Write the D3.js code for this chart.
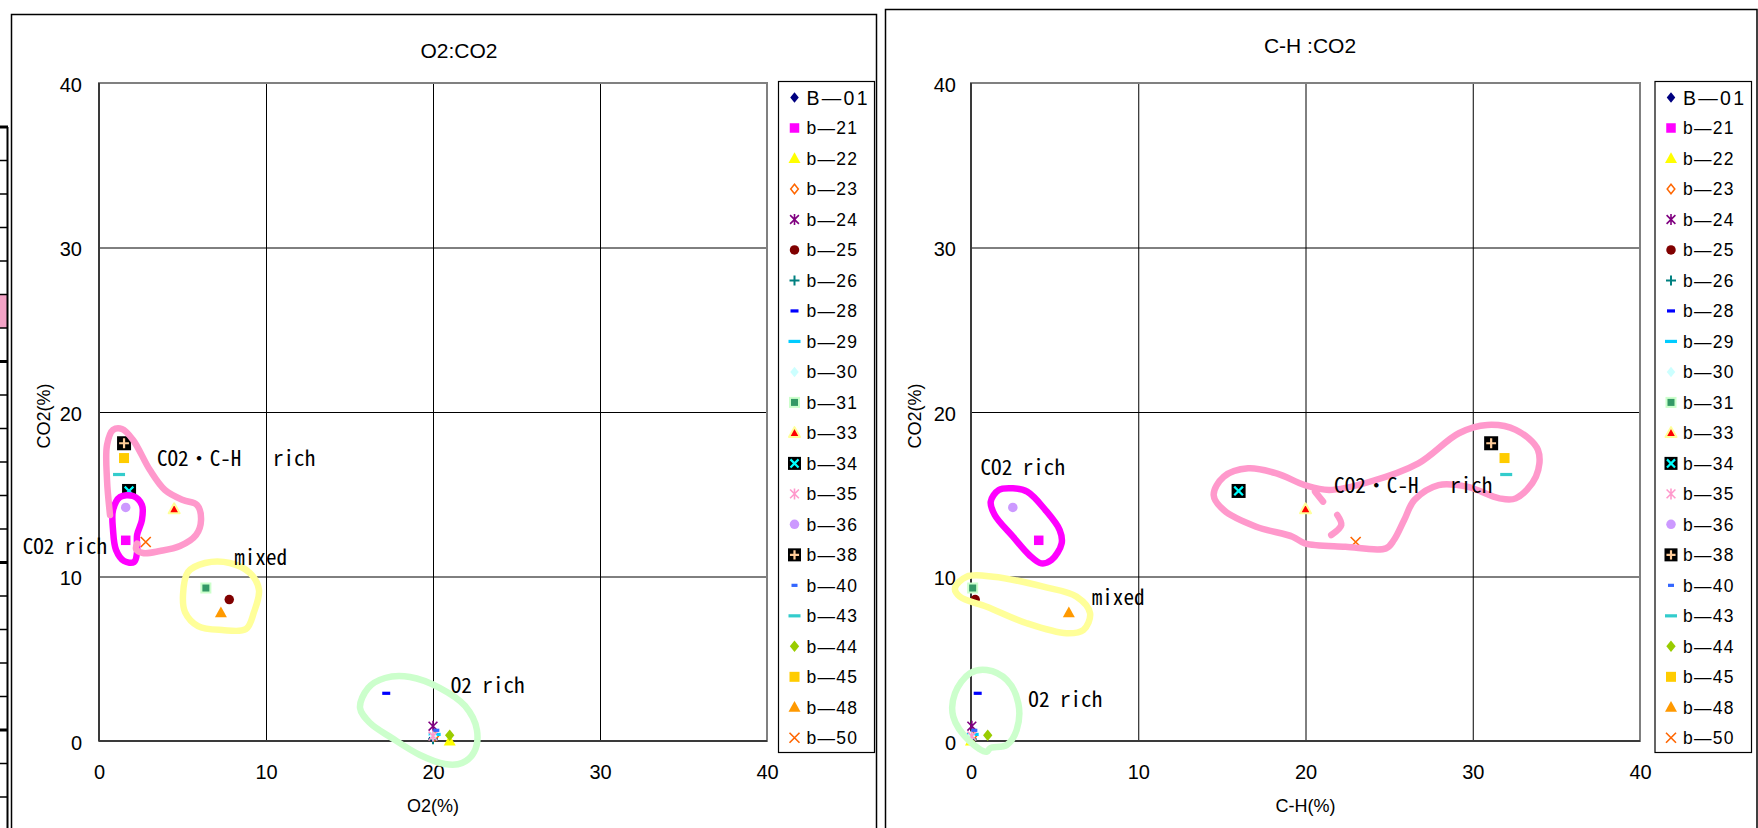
<!DOCTYPE html>
<html>
<head>
<meta charset="utf-8">
<script src="https://cdn.jsdelivr.net/npm/d3@7"></script>
<style>
  html, body { margin: 0; padding: 0; background: #fff; }
  svg { display: block; }
  .note { font-family: "Noto Sans Mono CJK JP", "DejaVu Sans Mono", monospace; white-space: pre; }
</style>
</head>
<body>
<svg id="chart" width="1758" height="828"></svg>
<script>
// ---- data -------------------------------------------------------------
const sampleNames = ["B—01","b—21","b—22","b—23","b—24","b—25","b—26","b—28","b—29","b—30","b—31",
                     "b—33","b—34","b—35","b—36","b—38","b—40","b—43","b—44","b—45","b—48","b—50"];
const o2Pct  = [20.0, 1.6, 21.0, 20.1, 20.0, 7.8, 20.0, 17.2, 20.1, 20.0, 6.4,
                4.5, 1.8, 20.0, 1.6, 1.5, 20.2, 1.2, 21.0, 1.5, 7.3, 2.8];
const chPct  = [0.0, 4.05, 0.0, 0.1, 0.05, 0.25, 0.05, 0.4, 0.1, 0.0, 0.1,
                20.0, 16.0, 0.05, 2.5, 31.1, 0.2, 32.0, 1.0, 31.9, 5.85, 23.0];
const co2Pct = [0.2, 12.2, 0.0, 0.3, 0.9, 8.6, 0.1, 2.9, 0.4, 0.3, 9.3,
                14.1, 15.2, 0.3, 14.2, 18.1, 0.65, 16.2, 0.35, 17.2, 7.8, 12.1];
const axisTicks = [0, 10, 20, 30, 40];

// group outlines (axis units) and their captions
const groupsO2 = [
  {color: "#FF00FF", closed: true, pts: [[1.26,14.83],[2.04,14.89],[2.57,14.35],[2.57,13.43],[2.28,12.52],[2.28,11.49],[2.10,10.88],[1.50,10.94],[1.02,11.61],[0.84,12.83],[0.84,14.04]]},
  {color: "#FF99CC", closed: false, pts: [[0.66,13.74],[0.48,15.87],[0.48,17.99],[0.84,18.91],[1.38,18.97],[2.04,18.30],[3.05,16.47],[3.95,15.26],[5.03,14.65],[5.87,14.35],[6.11,13.43],[5.81,12.52],[4.85,11.85],[3.65,11.55],[2.63,11.43],[2.22,11.67],[2.28,12.0]]},
  {color: "#FFFF99", closed: true, pts: [[5.03,8.88],[5.33,10.27],[6.35,10.82],[7.84,10.82],[9.04,10.21],[9.58,9.18],[9.28,7.84],[8.80,6.81],[7.37,6.75],[5.93,6.99],[5.15,7.84]]},
  {color: "#CCFFCC", closed: true, pts: [[15.63,2.01],[16.11,3.22],[17.13,3.83],[18.62,3.89],[20.42,3.22],[21.92,2.13],[22.63,0.67],[22.46,-0.67],[21.74,-1.34],[20.72,-1.40],[19.22,-0.85],[17.54,0.18],[16.23,1.09]]}
];
const groupsCH = [
  {color: "#FF00FF", closed: true, pts: [[2.51,15.36],[3.36,15.16],[4.45,14.04],[5.30,12.83],[5.42,12.02],[4.81,11.00],[4.20,10.80],[3.48,11.31],[2.51,12.42],[1.42,13.74],[1.18,14.55],[1.66,15.26]]},
  {color: "#FF99CC", closed: true, pts: [[14.51,14.95],[15.11,16.07],[16.57,16.58],[18.27,16.27],[19.96,15.56],[21.41,15.26],[23.84,15.76],[26.75,16.88],[29.17,18.71],[30.87,19.21],[32.57,18.91],[33.90,17.69],[33.78,16.07],[32.57,14.75],[31.60,14.75],[29.66,15.46],[27.96,15.56],[26.51,14.65],[25.90,13.43],[25.29,12.22],[24.81,11.71],[22.39,11.81],[19.96,12.02],[19.23,12.42],[17.05,13.03],[15.11,14.04]]},
  {color: "#FF99CC", closed: false, pts: [[20.57,15.16],[21.05,14.55]]},
  {color: "#FF99CC", closed: false, pts: [[21.90,13.74],[22.14,13.13],[21.54,12.52]]},
  {color: "#FFFF99", closed: true, pts: [[-0.96,9.28],[-0.26,9.99],[1.33,9.99],[4.32,9.38],[6.32,8.77],[7.12,7.76],[6.72,6.75],[5.72,6.55],[3.33,7.16],[0.94,8.16],[-0.66,8.77]]},
  {color: "#CCFFCC", closed: true, pts: [[0.94,4.32],[2.14,3.71],[2.83,2.29],[2.73,0.67],[2.14,-0.24],[1.14,-0.44],[0.94,-0.65],[-0.06,-0.04],[-1.06,1.48],[-0.96,2.90],[-0.06,4.12]]}
];
const notesO2 = [
  {text: "CO2・C-H   rich", x: 3.47, y: 16.72, units: 15},
  {text: "CO2 rich", x: -4.57, y: 11.37, units: 8},
  {text: "mixed", x: 8.10, y: 10.70, units: 5},
  {text: "O2 rich", x: 21.06, y: 2.90, units: 7}
];
const notesCH = [
  {text: "CO2 rich", x: 0.57, y: 16.17, units: 8},
  {text: "CO2・C-H   rich", x: 21.71, y: 15.06, units: 15},
  {text: "mixed", x: 7.22, y: 8.27, units: 5},
  {text: "O2 rich", x: 3.43, y: 2.05, units: 7}
];

// ---- marker styles, one per sample ------------------------------------
const markerStyles = [
  {shape: "diamond",  fill: "#000080", size: 10},
  {shape: "square",   fill: "#FF00FF", size: 9.5},
  {shape: "triangle", fill: "#FFFF00", size: 12},
  {shape: "diamond",  fill: "#FFFFFF", stroke: "#FF6600", size: 9},
  {shape: "asterisk", stroke: "#800080", size: 11},
  {shape: "circle",   fill: "#800000", size: 9.5},
  {shape: "plus",     stroke: "#008080", size: 10},
  {shape: "dash",     fill: "#0000FF", size: 8},
  {shape: "dash",     fill: "#00CCFF", size: 12},
  {shape: "diamond",  fill: "#CCFFFF", size: 10},
  {shape: "square",   fill: "#339966", stroke: "#CCFFCC", size: 9},
  {shape: "triangle", fill: "#FF0000", stroke: "#FFFF99", size: 11},
  {shape: "xbox",     fill: "#000000", stroke: "#00FFFF", size: 14},
  {shape: "asterisk", stroke: "#FF99CC", size: 11},
  {shape: "circle",   fill: "#CC99FF", size: 9.5},
  {shape: "plusbox",  fill: "#000000", stroke: "#FFCC99", size: 14},
  {shape: "dash",     fill: "#3366FF", size: 6},
  {shape: "dash",     fill: "#33CCCC", size: 12},
  {shape: "diamond",  fill: "#99CC00", size: 11},
  {shape: "square",   fill: "#FFCC00", size: 10},
  {shape: "triangle", fill: "#FF9900", size: 12},
  {shape: "x",        stroke: "#FF6600", size: 10}
];

function drawMarker(sel, st) {
  const s = st.size, r = s / 2;
  switch (st.shape) {
    case "square":
      sel.append("rect").attr("x", -r).attr("y", -r).attr("width", s).attr("height", s)
        .attr("fill", st.fill).attr("stroke", st.stroke || "none").attr("stroke-width", 2);
      break;
    case "diamond":
      sel.append("path").attr("d", `M0,${-r * 1.05}L${r * 0.85},0L0,${r * 1.05}L${-r * 0.85},0Z`)
        .attr("fill", st.fill).attr("stroke", st.stroke || "none").attr("stroke-width", 1.5);
      break;
    case "triangle":
      sel.append("path").attr("d", `M0,${-r * 1.05}L${r},${r * 0.75}L${-r},${r * 0.75}Z`)
        .attr("fill", st.fill).attr("stroke", st.stroke || "none").attr("stroke-width", 2)
        .attr("stroke-linejoin", "round");
      break;
    case "circle":
      sel.append("circle").attr("r", r).attr("fill", st.fill);
      break;
    case "dash":
      sel.append("rect").attr("x", -r).attr("y", -1.6).attr("width", s).attr("height", 3.2).attr("fill", st.fill);
      break;
    case "asterisk":
      sel.append("path").attr("d", `M${-r * 0.8},${-r * 0.8}L${r * 0.8},${r * 0.8}M${-r * 0.8},${r * 0.8}L${r * 0.8},${-r * 0.8}M0,${-r}L0,${r}`)
        .attr("stroke", st.stroke).attr("stroke-width", 1.6).attr("fill", "none");
      break;
    case "plus":
      sel.append("path").attr("d", `M${-r},0L${r},0M0,${-r}L0,${r}`)
        .attr("stroke", st.stroke).attr("stroke-width", 2).attr("fill", "none");
      break;
    case "x":
      sel.append("path").attr("d", `M${-r},${-r}L${r},${r}M${-r},${r}L${r},${-r}`)
        .attr("stroke", st.stroke).attr("stroke-width", 1.6).attr("fill", "none");
      break;
    case "xbox": {
      sel.append("rect").attr("x", -r).attr("y", -r).attr("width", s).attr("height", s).attr("fill", st.fill);
      const q = r * 0.62;
      sel.append("path").attr("d", `M${-q},${-q}L${q},${q}M${-q},${q}L${q},${-q}`)
        .attr("stroke", st.stroke).attr("stroke-width", 2.2).attr("fill", "none");
      break;
    }
    case "plusbox": {
      sel.append("rect").attr("x", -r).attr("y", -r).attr("width", s).attr("height", s).attr("fill", st.fill);
      const q = r * 0.7;
      sel.append("path").attr("d", `M${-q},0L${q},0M0,${-q}L0,${q}`)
        .attr("stroke", st.stroke).attr("stroke-width", 2.2).attr("fill", "none");
      break;
    }
  }
}

const svg = d3.select("#chart");
const sansFont = "'Liberation Sans', Arial, sans-serif";

// ---- edge of the neighbouring sheet table -----------------------------
const strip = svg.append("g");
const stripRows = d3.range(127, 828, 33.5);
strip.append("rect").attr("x", 0).attr("y", stripRows[5]).attr("width", 7).attr("height", 33.5).attr("fill", "#F4A3C6");
strip.selectAll("line.row").data(stripRows).join("line")
  .attr("x1", 0).attr("x2", 8).attr("y1", d => d).attr("y2", d => d)
  .attr("stroke", "#000").attr("stroke-width", (d, i) => [0, 7, 13, 18].includes(i) ? 3 : 1.5);
strip.append("line").attr("x1", 7.5).attr("x2", 7.5).attr("y1", 127).attr("y2", 828)
  .attr("stroke", "#000").attr("stroke-width", 2);

// ---- one scatter panel --------------------------------------------------
function drawPanel(p) {
  const x = d3.scaleLinear().domain([0, 40]).range([p.plotLeft, p.plotRight]);
  const y = d3.scaleLinear().domain([0, 40]).range([741, 83]);
  const plotW = x(40) - x(0), plotH = y(0) - y(40);
  const g = svg.append("g");

  g.append("rect").attr("x", p.frameX).attr("y", p.frameY).attr("width", p.frameW).attr("height", 900)
    .attr("fill", "#fff").attr("stroke", "#000").attr("stroke-width", 1.5);

  g.append("text").attr("x", p.titleX).attr("y", p.titleY)
    .attr("text-anchor", "middle").attr("font-family", sansFont).attr("font-size", 21)
    .text(p.title);

  // gridlines + tick labels
  const gx = g.append("g").attr("transform", `translate(0,${y(0)})`)
    .call(d3.axisBottom(x).tickValues(axisTicks).tickSize(-plotH).tickFormat(d3.format("d")));
  gx.select(".domain").remove();
  gx.selectAll(".tick line").attr("stroke", d => (d === 0 || d === 40) ? "none" : "#000").attr("stroke-width", 1);
  gx.selectAll(".tick text").attr("y", 38).attr("dy", null)
    .attr("font-family", sansFont).attr("font-size", 20).attr("fill", "#000");

  const gy = g.append("g").attr("transform", `translate(${x(0)},0)`)
    .call(d3.axisLeft(y).tickValues(axisTicks).tickSize(-plotW).tickFormat(d3.format("d")));
  gy.select(".domain").remove();
  gy.selectAll(".tick line").attr("stroke", d => (d === 0 || d === 40) ? "none" : "#000").attr("stroke-width", 1);
  gy.selectAll(".tick text").attr("x", -p.yLabelGap).attr("dy", "0.42em")
    .attr("font-family", sansFont).attr("font-size", 20).attr("fill", "#000");

  // plot area border and axis lines
  g.append("rect").attr("x", x(0)).attr("y", y(40)).attr("width", plotW).attr("height", plotH)
    .attr("fill", "none").attr("stroke", "#808080").attr("stroke-width", 2);
  g.append("line").attr("x1", x(0)).attr("x2", x(0)).attr("y1", y(0)).attr("y2", y(40))
    .attr("stroke", "#3a3a3a").attr("stroke-width", 2);
  g.append("line").attr("x1", x(0)).attr("x2", x(40)).attr("y1", y(0)).attr("y2", y(0))
    .attr("stroke", "#3a3a3a").attr("stroke-width", 2);

  // axis titles
  g.append("text").attr("x", (x(0) + x(40)) / 2).attr("y", 812).attr("text-anchor", "middle")
    .attr("font-family", sansFont).attr("font-size", 18).text(p.xTitle);
  g.append("text").attr("transform", `translate(${p.yTitleX},416) rotate(-90)`)
    .attr("text-anchor", "middle").attr("dy", "0.35em")
    .attr("font-family", sansFont).attr("font-size", 18).text("CO2(%)");

  // points, drawn in series order
  const pts = g.append("g");
  sampleNames.forEach((name, i) => {
    const m = pts.append("g").attr("transform", `translate(${x(p.xs[i])},${y(co2Pct[i])})`);
    drawMarker(m, markerStyles[i]);
  });

  // group outlines
  const lineClosed = d3.line().x(d => x(d[0])).y(d => y(d[1])).curve(d3.curveCatmullRomClosed.alpha(0.5));
  const lineOpen = d3.line().x(d => x(d[0])).y(d => y(d[1])).curve(d3.curveCatmullRom.alpha(0.5));
  p.groups.forEach(gr => {
    g.append("path").attr("d", (gr.closed ? lineClosed : lineOpen)(gr.pts))
      .attr("fill", "none").attr("stroke", gr.color).attr("stroke-width", 6.5)
      .attr("stroke-linecap", "round").attr("stroke-linejoin", "round");
  });

  // group captions
  p.notes.forEach(n => {
    g.append("text").attr("class", "note").attr("xml:space", "preserve")
      .attr("x", x(n.x)).attr("y", y(n.y)).attr("font-size", 21)
      .attr("textLength", n.units * 10.55).attr("lengthAdjust", "spacingAndGlyphs")
      .text(n.text);
  });

  // legend
  const lg = g.append("g");
  lg.append("rect").attr("x", p.legendX).attr("y", 81.5).attr("width", p.legendW).attr("height", 671)
    .attr("fill", "#fff").attr("stroke", "#000").attr("stroke-width", 1.2);
  const rowY = d3.scalePoint().domain(d3.range(sampleNames.length)).range([97.5, 737.8]);
  sampleNames.forEach((name, i) => {
    const m = lg.append("g").attr("transform", `translate(${p.legendX + 16},${rowY(i)})`);
    drawMarker(m, Object.assign({}, markerStyles[i], {size: Math.min(markerStyles[i].size, 13)}));
    lg.append("text").attr("x", p.legendX + 28).attr("y", rowY(i)).attr("dy", "0.37em")
      .attr("font-family", sansFont).attr("font-size", i === 0 ? 19.5 : 17.5)
      .attr("textLength", i === 0 ? 61 : 50.5).attr("lengthAdjust", "spacing")
      .text(name);
  });
}

drawPanel({
  frameX: 11.5, frameY: 14.5, frameW: 865, titleX: 459, titleY: 58,
  plotLeft: 99, plotRight: 767, yLabelGap: 17, yTitleX: 44,
  legendX: 778.5, legendW: 96,
  xs: o2Pct, title: "O2:CO2", xTitle: "O2(%)",
  groups: groupsO2, notes: notesO2
});
drawPanel({
  frameX: 885.5, frameY: 9.5, frameW: 871.5, titleX: 1310, titleY: 53,
  plotLeft: 971, plotRight: 1640, yLabelGap: 15, yTitleX: 915,
  legendX: 1655, legendW: 96.5,
  xs: chPct, title: "C-H :CO2", xTitle: "C-H(%)",
  groups: groupsCH, notes: notesCH
});
</script>
</body>
</html>
